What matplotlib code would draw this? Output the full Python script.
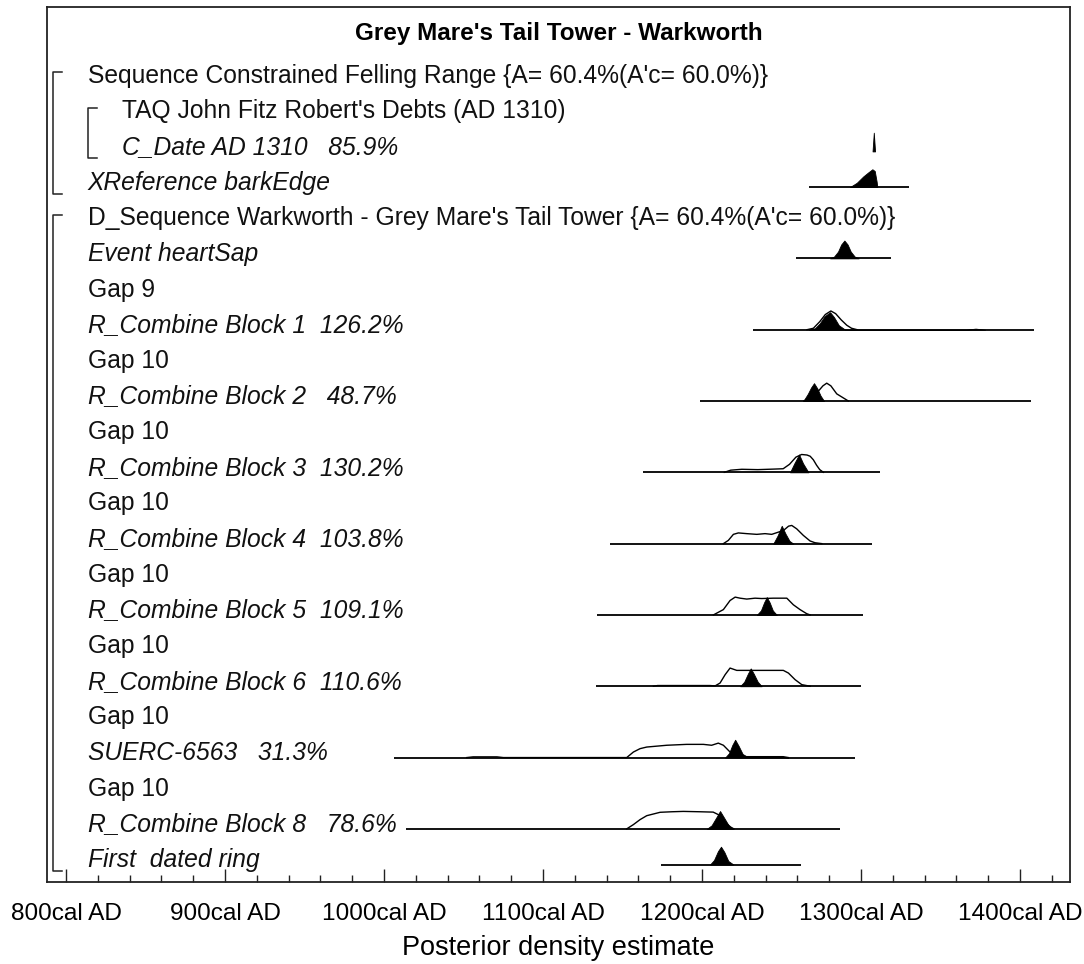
import matplotlib as mpl
import matplotlib.pyplot as plt
import matplotlib.transforms as mtransforms
from matplotlib.ticker import MultipleLocator, FuncFormatter

mpl.rcParams["font.family"] = ["Liberation Sans", "DejaVu Sans"]

# row labels, top to bottom
labels = [
    "Sequence Constrained Felling Range {A= 60.4%(A'c= 60.0%)}",
    "TAQ John Fitz Robert's Debts (AD 1310)",
    "C_Date AD 1310   85.9%",
    "XReference barkEdge",
    "D_Sequence Warkworth - Grey Mare's Tail Tower {A= 60.4%(A'c= 60.0%)}",
    "Event heartSap",
    "Gap 9",
    "R_Combine Block 1  126.2%",
    "Gap 10",
    "R_Combine Block 2   48.7%",
    "Gap 10",
    "R_Combine Block 3  130.2%",
    "Gap 10",
    "R_Combine Block 4  103.8%",
    "Gap 10",
    "R_Combine Block 5  109.1%",
    "Gap 10",
    "R_Combine Block 6  110.6%",
    "Gap 10",
    "SUERC-6563   31.3%",
    "Gap 10",
    "R_Combine Block 8   78.6%",
    "First  dated ring",
]
italic = [False, False, True, True, False, True, False, True, False, True,
          False, True, False, True, False, True, False, True, False, True,
          False, True, True]
indent = [0, 1, 1] + [0] * 20

# (first row, last row, nesting level) for the sequence brackets
brackets = [(0, 3, 0), (1, 2, 1), (4, 22, 0)]

# distributions: years and relative heights (1 = peak)
# *_post = posterior (filled), *_like = unmodelled likelihood (outline)
cdate_post = ([1307.2, 1308.0, 1308.8], [0, 1.05, 0])

xref_range = (1267, 1330)
xref_post = ([1293, 1297.3, 1301.4, 1304.6, 1307.1, 1308.6, 1309.8, 1310.2],
             [0, 0.24, 0.6, 0.83, 1.0, 0.9, 0.3, 0])

heart_range = (1259, 1319)
heart_post = ([1280.5, 1283, 1285.5, 1287.5, 1289.5, 1291.5, 1293.5, 1296, 1298.5],
              [0, 0.1, 0.38, 0.78, 1.0, 0.78, 0.38, 0.1, 0])

b1_range = (1232, 1409)
b1_post = ([1267, 1271, 1274, 1277, 1280.5, 1283, 1286, 1290, 1366, 1372, 1378],
           [0, 0.08, 0.35, 0.75, 0.98, 0.7, 0.25, 0, 0, 0.06, 0])
b1_like = ([1266, 1270, 1274, 1277.5, 1281, 1284, 1287.5, 1291, 1294, 1297.5],
           [0, 0.08, 0.45, 0.85, 1.05, 0.9, 0.55, 0.25, 0.08, 0])

b2_range = (1199, 1407)
b2_post = ([1263.7, 1266.5, 1268.5, 1270.4, 1272.5, 1274.5, 1276.7],
           [0, 0.4, 0.75, 1.0, 0.7, 0.3, 0])
b2_like = ([1264, 1268, 1271, 1273.6, 1276, 1278.4, 1281, 1284.7, 1288.9, 1292],
           [0, 0.2, 0.45, 0.6, 0.85, 1.0, 0.85, 0.4, 0.17, 0])

b3_range = (1163, 1312)
b3_post = ([1255.3, 1258, 1261, 1263.5, 1266.9], [0, 0.5, 1.0, 0.5, 0])
b3_like = ([1214, 1218, 1225, 1235, 1245, 1251, 1255, 1259, 1262.6, 1266,
            1268, 1270, 1272, 1274, 1276.3],
           [0, 0.12, 0.17, 0.15, 0.18, 0.2, 0.45, 0.85, 1.0, 0.97,
            0.9, 0.7, 0.4, 0.15, 0])

b4_range = (1142, 1307)
b4_post = ([1244.8, 1247.5, 1250.1, 1252.5, 1255, 1257.4],
           [0, 0.45, 1.0, 0.55, 0.15, 0])
b4_like = ([1213.4, 1216.5, 1219.7, 1222.8, 1228.1, 1234.4, 1239.6, 1243.8,
            1251.2, 1254.4, 1256.4, 1259.5, 1263.7, 1267.9, 1271, 1275.3],
           [0, 0.18, 0.52, 0.6, 0.56, 0.52, 0.56, 0.52,
            0.74, 0.98, 1.02, 0.83, 0.46, 0.15, 0.05, 0])

b5_range = (1134, 1301.5)
b5_post = ([1234.4, 1237, 1239, 1240.7, 1242.5, 1244.5, 1247],
           [0, 0.25, 0.7, 1.0, 0.7, 0.25, 0])
b5_like = ([1207.1, 1213.4, 1217.6, 1220.8, 1223.9, 1228.1, 1233.3, 1237.5,
            1244.8, 1253.3, 1257.4, 1261.6, 1265.8, 1268],
           [0, 0.3, 0.81, 1.0, 0.94, 0.89, 0.94, 0.92,
            0.94, 0.94, 0.57, 0.3, 0.07, 0])

b6_range = (1133, 1300)
b6_post = ([1223.9, 1226.5, 1228.8, 1230.6, 1232.5, 1235, 1237.5],
           [0, 0.25, 0.7, 1.0, 0.7, 0.25, 0])
b6_like = ([1169.4, 1172, 1205, 1208.2, 1211.3, 1214.5, 1217.6, 1221.8, 1228.1,
            1236.5, 1251.1, 1254.3, 1258.5, 1262.7, 1268],
           [0, 0.04, 0.04, 0.02, 0.18, 0.65, 1.02, 0.89, 0.89,
            0.89, 0.89, 0.74, 0.37, 0.09, 0])

suerc_range = (1006, 1296)
suerc_post = ([1214.5, 1217, 1219, 1220.8, 1223, 1225.5, 1228.1, 1245, 1251, 1254.3],
              [0, 0.25, 0.7, 1.0, 0.65, 0.2, 0.06, 0.06, 0.04, 0])
suerc_like = ([1052, 1056, 1071, 1075, 1152.6, 1156.8, 1161, 1165.2, 1177.8,
               1190.3, 1200.8, 1206, 1210.2, 1213.4, 1217.6, 1221, 1228, 1251, 1254.3],
              [0, 0.04, 0.04, 0, 0, 0.31, 0.5, 0.59, 0.69,
               0.74, 0.74, 0.69, 0.81, 0.69, 0.31, 0.1, 0.05, 0.05, 0])

b8_range = (1014, 1287)
b8_post = ([1203, 1206, 1209, 1211.3, 1214, 1217, 1219.7],
           [0, 0.2, 0.65, 1.0, 0.6, 0.15, 0])
b8_like = ([1152.6, 1156.8, 1161, 1165.2, 1173.6, 1181, 1188.2, 1198.7, 1207,
            1210.2, 1214, 1218, 1220],
           [0, 0.24, 0.52, 0.74, 0.93, 0.96, 0.98, 0.96, 0.94,
            0.8, 0.4, 0.1, 0])

first_range = (1174, 1262)
first_post = ([1205, 1207.5, 1210, 1211.9, 1214, 1216.5, 1219.7],
              [0, 0.25, 0.75, 1.0, 0.7, 0.2, 0])

# row index -> (range line, posterior, likelihood)
dists = {
    2: (None, cdate_post, None),
    3: (xref_range, xref_post, None),
    5: (heart_range, heart_post, None),
    7: (b1_range, b1_post, b1_like),
    9: (b2_range, b2_post, b2_like),
    11: (b3_range, b3_post, b3_like),
    13: (b4_range, b4_post, b4_like),
    15: (b5_range, b5_post, b5_like),
    17: (b6_range, b6_post, b6_like),
    19: (suerc_range, suerc_post, suerc_like),
    21: (b8_range, b8_post, b8_like),
    22: (first_range, first_post, None),
}

peak_h = 0.5       # peak height in row units
base_off = 0.13    # baseline below row centre
frame_col = "#222222"

fig = plt.figure(figsize=(10.84, 9.64), dpi=100)
ax = fig.add_axes([0.04336, 0.08506, 0.94373, 0.90768])
ax.set_xlim(788, 1431.4)
ax.set_ylim(22.62, -1.92)

for k, (rng, post, like) in dists.items():
    base = k + base_off
    if rng is not None:
        ax.plot(rng, [base, base], color="black", lw=1.3, solid_capstyle="butt", zorder=2)
    if like is not None:
        lx, ly = like
        ax.plot(lx, [base - h * peak_h for h in ly], color="black", lw=1.0, zorder=2)
    px, py = post
    ax.fill_between(px, base, [base - h * peak_h for h in py],
                    facecolor="black", edgecolor="black", lw=0.6, zorder=3)

# labels and brackets, x in axes fraction
trans = mtransforms.blended_transform_factory(ax.transAxes, ax.transData)
text_x = [0.040, 0.0733]
for k, lab in enumerate(labels):
    ax.text(text_x[indent[k]], k + 0.2, lab, transform=trans,
            fontsize=17.7, style="italic" if italic[k] else "normal",
            ha="left", va="baseline", color="#111111")

bracket_x = [0.0059, 0.040]
for r0, r1, lev in brackets:
    x0 = bracket_x[lev]
    x1 = x0 + 0.0088
    ax.plot([x1, x0, x0, x1], [r0 - 0.1, r0 - 0.1, r1 + 0.32, r1 + 0.32],
            transform=trans, color=frame_col, lw=1.1, clip_on=False)

ax.text(0.5, -1.0, "Grey Mare's Tail Tower - Warkworth", transform=trans,
        fontsize=17.5, fontweight="bold", ha="center", va="baseline")

ax.xaxis.set_major_locator(MultipleLocator(100))
ax.xaxis.set_minor_locator(MultipleLocator(20))
ax.xaxis.set_major_formatter(FuncFormatter(lambda v, pos: f"{int(v)}cal AD"))
ax.tick_params(axis="x", which="both", direction="in", color=frame_col,
               width=1.0, labelsize=17.6, pad=15)
ax.tick_params(axis="x", which="major", length=9.5)
ax.tick_params(axis="x", which="minor", length=5)
ax.set_yticks([])
ax.set_xlabel("Posterior density estimate", fontsize=19.5, labelpad=7)

for side in ["left", "right", "top", "bottom"]:
    ax.spines[side].set_color(frame_col)
    ax.spines[side].set_linewidth(1.3)

fig.savefig("out.png", dpi=100)
